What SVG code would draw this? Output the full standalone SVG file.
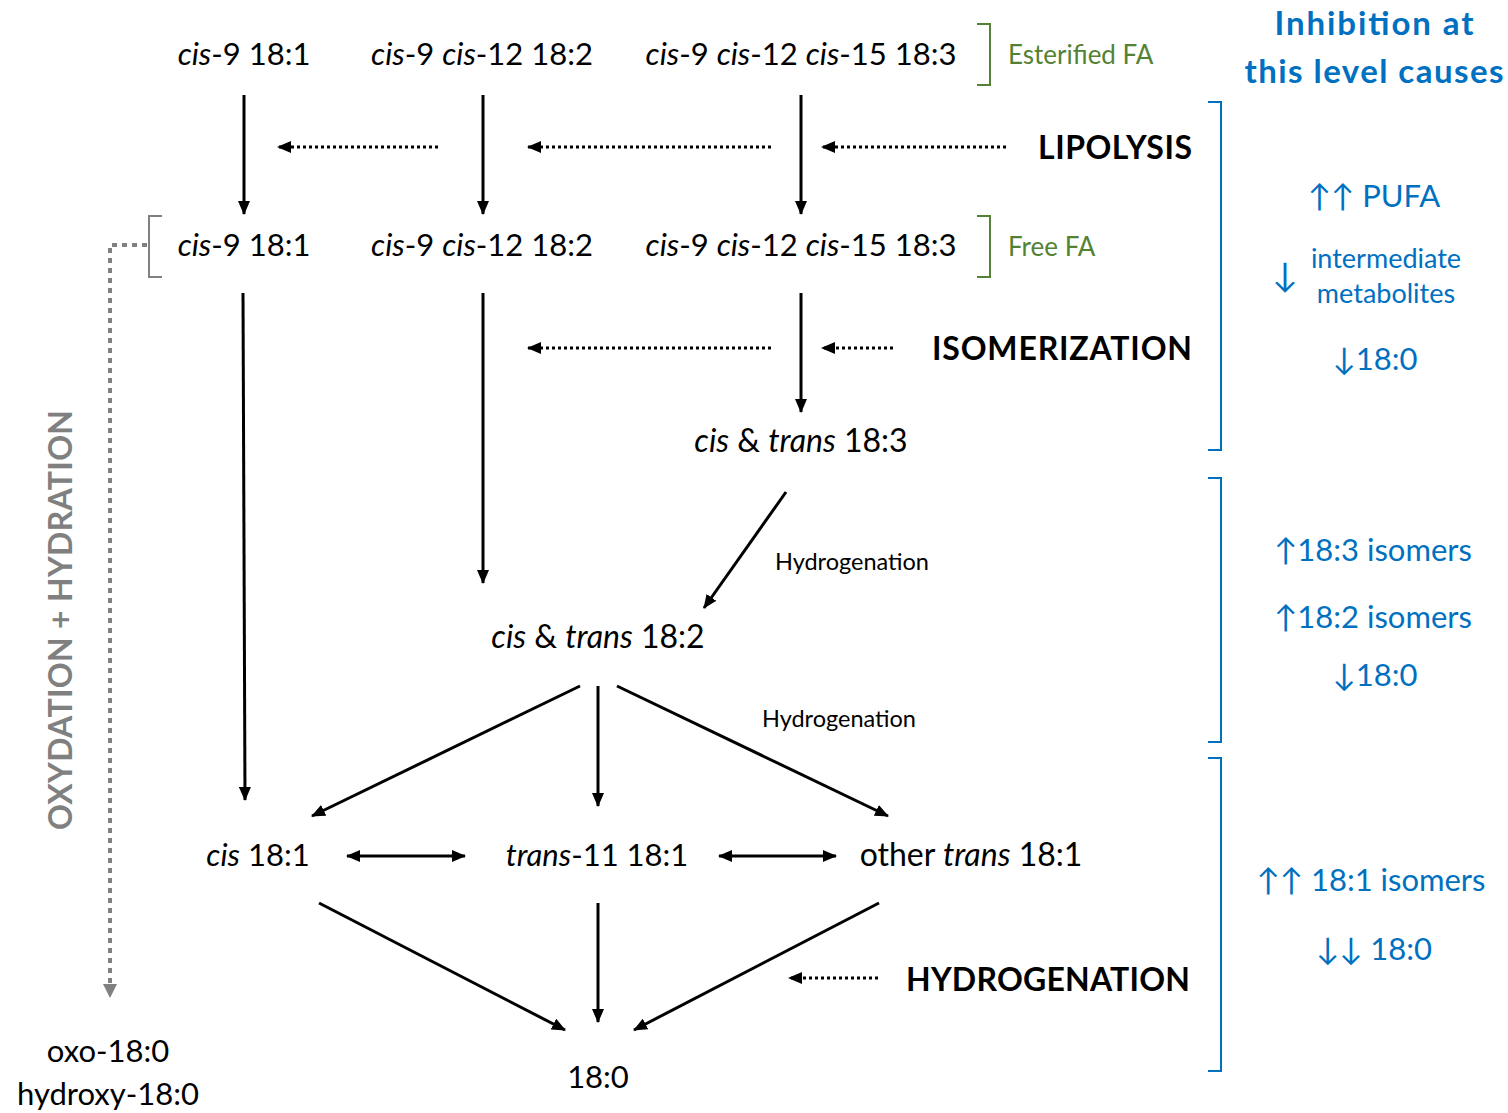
<svg xmlns="http://www.w3.org/2000/svg" width="1508" height="1113" viewBox="0 0 1508 1113">
<style>
text{font-family:Lato,"Open Sans","Liberation Sans",sans-serif;}
.m{font-size:31px;fill:#000;text-anchor:middle;}
.i{font-style:italic;}
.g{font-size:26px;fill:#548235;}
.p{font-size:32px;font-weight:bold;fill:#000;}
.h{font-size:23.5px;fill:#000;}
.b{font-size:31px;fill:#0070C0;text-anchor:middle;}
.bb{font-size:33px;fill:#0070C0;font-weight:bold;text-anchor:middle;}
.ln{stroke:#000;stroke-width:3;fill:none;}
.dt{stroke:#000;stroke-width:3;stroke-dasharray:3 3;fill:none;}
.brg{stroke:#548235;stroke-width:2;fill:none;}
.brb{stroke:#0070C0;stroke-width:2;fill:none;}
</style>
<defs>
<marker id="ah" viewBox="0 0 14 12" refX="13" refY="6" markerWidth="14" markerHeight="12" orient="auto-start-reverse" markerUnits="userSpaceOnUse"><path d="M0,0 L14,6 L0,12 z" fill="#000"/></marker>
<marker id="ahg" viewBox="0 0 14 14" refX="13" refY="7" markerWidth="14" markerHeight="14" orient="auto" markerUnits="userSpaceOnUse"><path d="M0,0 L14,7 L0,14 z" fill="#808080"/></marker>
</defs>
<rect width="1508" height="1113" fill="#fff"/>

<g id="connectors">
<line class="ln" x1="244" y1="95" x2="244" y2="214" marker-end="url(#ah)"/>
<line class="ln" x1="483" y1="95" x2="483" y2="214" marker-end="url(#ah)"/>
<line class="ln" x1="801" y1="95" x2="801" y2="214" marker-end="url(#ah)"/>
<line class="dt" x1="438" y1="147" x2="278" y2="147" marker-end="url(#ah)"/>
<line class="dt" x1="771" y1="147" x2="528" y2="147" marker-end="url(#ah)"/>
<line class="dt" x1="1006" y1="147" x2="822" y2="147" marker-end="url(#ah)"/>
<line class="ln" x1="243" y1="293" x2="245" y2="800" marker-end="url(#ah)"/>
<line class="ln" x1="483" y1="293" x2="483" y2="583" marker-end="url(#ah)"/>
<line class="ln" x1="801" y1="293" x2="801" y2="412" marker-end="url(#ah)"/>
<line class="dt" x1="771" y1="348" x2="528" y2="348" marker-end="url(#ah)"/>
<line class="dt" x1="893" y1="348" x2="822" y2="348" marker-end="url(#ah)"/>
<line class="ln" x1="786" y1="492" x2="704" y2="608" marker-end="url(#ah)"/>
<line class="ln" x1="580" y1="686" x2="312" y2="816" marker-end="url(#ah)"/>
<line class="ln" x1="598" y1="686" x2="598" y2="806" marker-end="url(#ah)"/>
<line class="ln" x1="617" y1="686" x2="888" y2="816" marker-end="url(#ah)"/>
<line class="ln" x1="347" y1="856" x2="465" y2="856" marker-start="url(#ah)" marker-end="url(#ah)"/>
<line class="ln" x1="719" y1="856" x2="836" y2="856" marker-start="url(#ah)" marker-end="url(#ah)"/>
<line class="ln" x1="319" y1="903" x2="565" y2="1030" marker-end="url(#ah)"/>
<line class="ln" x1="598" y1="903" x2="598" y2="1022" marker-end="url(#ah)"/>
<line class="ln" x1="879" y1="903" x2="634" y2="1030" marker-end="url(#ah)"/>
<line class="dt" x1="878" y1="978" x2="789" y2="978" marker-end="url(#ah)"/>
<path d="M147,245 H110 V997" stroke="#808080" stroke-width="4" stroke-dasharray="5 5" fill="none" marker-end="url(#ahg)"/>
</g>

<g id="brackets">
<path class="brg" d="M977,24 H990 V85 H977"/>
<path class="brg" d="M977,216 H990 V277 H977"/>
<path d="M162,216 H149 V277 H162" stroke="#808080" stroke-width="2" fill="none"/>
<path class="brb" d="M1208,102 H1221 V450 H1208"/>
<path class="brb" d="M1208,478 H1221 V742 H1208"/>
<path class="brb" d="M1208,758 H1221 V1071 H1208"/>
</g>

<g id="n-e181"><text class="m" x="244" y="65"><tspan class="i">cis</tspan>-9 18:1</text></g>
<g id="n-e182"><text class="m" x="482" y="65"><tspan class="i">cis</tspan>-9 <tspan class="i">cis</tspan>-12 18:2</text></g>
<g id="n-e183"><text class="m" x="801" y="65"><tspan class="i">cis</tspan>-9 <tspan class="i">cis</tspan>-12 <tspan class="i">cis</tspan>-15 18:3</text></g>
<g id="l-esterified"><text class="g" x="1008" y="64">Esterified FA</text></g>
<g id="l-lipolysis"><text class="p" x="1038" y="159" textLength="154">LIPOLYSIS</text></g>

<g id="n-f181"><text class="m" x="244" y="256"><tspan class="i">cis</tspan>-9 18:1</text></g>
<g id="n-f182"><text class="m" x="482" y="256"><tspan class="i">cis</tspan>-9 <tspan class="i">cis</tspan>-12 18:2</text></g>
<g id="n-f183"><text class="m" x="801" y="256"><tspan class="i">cis</tspan>-9 <tspan class="i">cis</tspan>-12 <tspan class="i">cis</tspan>-15 18:3</text></g>
<g id="l-free"><text class="g" x="1008" y="256">Free FA</text></g>
<g id="l-isomerization"><text class="p" x="932" y="360" textLength="260">ISOMERIZATION</text></g>

<g id="n-ct183"><text class="m" x="801" y="452" style="font-size:32px"><tspan class="i">cis</tspan> &amp; <tspan class="i">trans</tspan> 18:3</text></g>
<g id="l-hyd1"><text class="h" x="775" y="570">Hydrogenation</text></g>
<g id="n-ct182"><text class="m" x="598" y="648" style="font-size:32px"><tspan class="i">cis</tspan> &amp; <tspan class="i">trans</tspan> 18:2</text></g>
<g id="l-hyd2"><text class="h" x="762" y="727">Hydrogenation</text></g>

<g id="n-cis181"><text class="m" x="258" y="866"><tspan class="i">cis</tspan> 18:1</text></g>
<g id="n-t11"><text class="m" x="597" y="866"><tspan class="i">trans</tspan>-11 18:1</text></g>
<g id="n-other"><text class="m" x="971" y="866" style="font-size:32px">other <tspan class="i">trans</tspan> 18:1</text></g>
<g id="l-hydrogenation"><text class="p" x="906" y="991" textLength="284">HYDROGENATION</text></g>
<g id="n-180"><text class="m" x="598" y="1088">18:0</text></g>
<g id="n-oxo"><text class="m" x="108" y="1062">oxo-18:0</text><text class="m" x="108" y="1105">hydroxy-18:0</text></g>
<g id="l-oxy"><text transform="translate(72,620) rotate(-90)" style="font-size:32px;font-weight:bold;fill:#808080;text-anchor:middle" textLength="420">OXYDATION + HYDRATION</text></g>

<g id="right">
<text class="bb" x="1374" y="35" textLength="199">Inhibition at</text>
<text class="bb" x="1374" y="83" textLength="259">this level causes</text>
<text class="b" x="1374" y="207">↑↑ PUFA</text>
<text class="b" x="1285" y="287" style="font-size:34px">↓</text>
<text class="b" x="1386" y="268" style="font-size:27px">intermediate</text>
<text class="b" x="1386" y="303" style="font-size:27px">metabolites</text>
<text class="b" x="1375" y="370">↓18:0</text>
<text class="b" x="1373" y="561">↑18:3 isomers</text>
<text class="b" x="1373" y="628">↑18:2 isomers</text>
<text class="b" x="1375" y="686">↓18:0</text>
<text class="b" x="1371" y="891">↑↑ 18:1 isomers</text>
<text class="b" x="1374" y="960">↓↓ 18:0</text>
</g>
</svg>
